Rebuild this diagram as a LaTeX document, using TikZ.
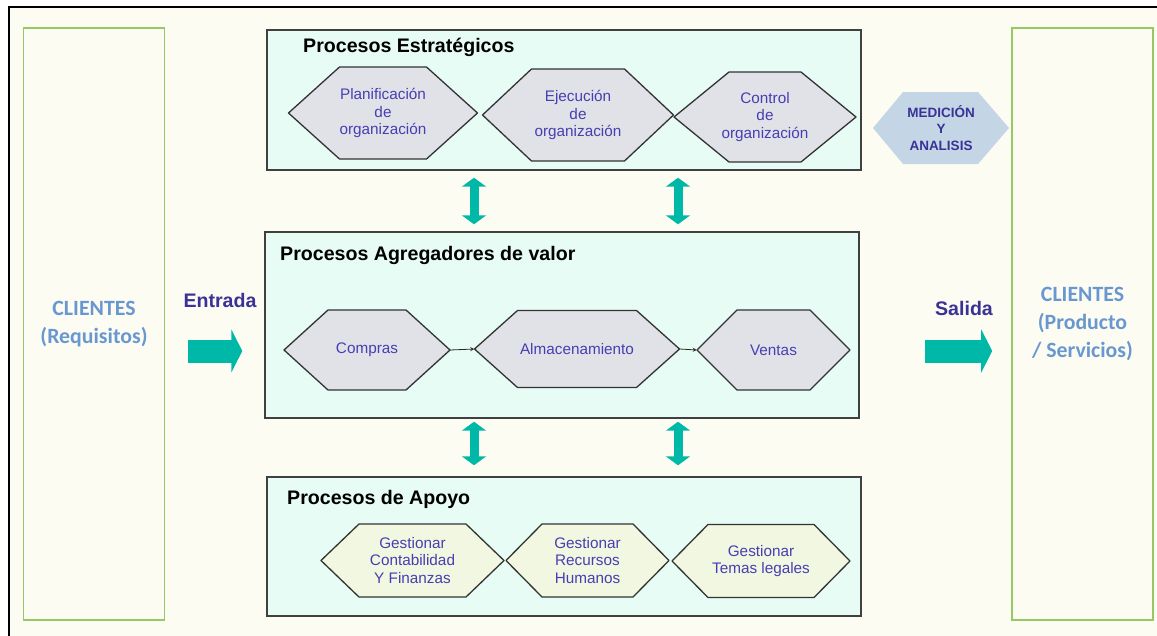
\documentclass[tikz,border=0pt]{standalone}
\usepackage{fontspec}
\setmainfont{Liberation Sans}
\newfontfamily\clifont{Carlito}
\usetikzlibrary{arrows.meta,shadows}

\definecolor{fondo}{RGB}{253,252,243}
\definecolor{menta}{RGB}{230,252,244}
\definecolor{hexgris}{RGB}{224,226,232}
\definecolor{hexcrema}{RGB}{241,247,224}
\definecolor{hextexto}{RGB}{72,62,178}
\definecolor{turquesa}{RGB}{0,184,168}
\definecolor{verde}{RGB}{150,200,100}
\definecolor{celeste}{RGB}{105,152,208}
\definecolor{medfondo}{RGB}{196,213,230}
\definecolor{azuloscuro}{RGB}{58,50,150}

\tikzset{
  procbox/.style={draw=black!75, line width=1.4pt, fill=menta, inner sep=0pt,
    drop shadow={shadow xshift=1.2pt, shadow yshift=-1.2pt, fill=black!40}},
  clibox/.style={draw=verde, line width=1.6pt, fill=fondo, inner sep=0pt,
    minimum width=141pt, minimum height=592pt, align=center, text=celeste,
    font=\clifont\fontsize{21.8}{28}\selectfont\bfseries},
  hexborde/.style={draw=black!80, line width=1.3pt, line join=round},
  hextxt/.style={inner sep=0pt, align=center, text=hextexto,
    font=\fontsize{15.3}{17.5}\selectfont},
  titulo/.style={anchor=west, inner sep=0pt, font=\fontsize{19.6}{22}\selectfont\bfseries},
  flujo/.style={text=azuloscuro, inner sep=0pt, font=\fontsize{19.6}{22}\selectfont\bfseries},
  doblefl/.style={turquesa, line width=9pt,
    arrows={Triangle[width=24pt,length=9pt]-Triangle[width=24pt,length=9pt]}},
  grandefl/.style={turquesa, line width=23pt, arrows={-Triangle[width=43pt,length=11pt]}}
}

% hexagon: [fill]{name}{centre}{width}{height}{point depth}{text}
\newcommand{\hexnodo}[7][hexgris]{%
  \path[hexborde, fill=#1] (#3) ++(-#4/2,0) -- ++(#6,-#5/2) -- ++(#4-2*#6,0)
    -- ++(#6,#5/2) -- ++(-#6,#5/2) -- ++(-#4+2*#6,0) -- cycle;
  \node[hextxt, minimum width=#4pt, minimum height=#5pt] (#2) at (#3) {#7};
}

\begin{document}
\begin{tikzpicture}[>=stealth, x=1pt, y=-1pt]
  \useasboundingbox (0,0) rectangle (1157,635);
  % Frame
  \fill[white] (0,0) rectangle (1157,635);
  \draw[line width=2pt, fill=fondo] (9,7) rectangle (1180,660);
  % Clients
  \node[clibox] (cliin) at (94,324) {CLIENTES\\(Requisitos)};
  \node[clibox] (cliout) at (1082.5,324) {CLIENTES\\(Producto\\/ Servicios)};
  % Process boxes
  \node[procbox, minimum width=594pt, minimum height=140pt] (estrat) at (564,100) {};
  \node[procbox, minimum width=594pt, minimum height=186pt] (agreg) at (562,325) {};
  \node[procbox, minimum width=594pt, minimum height=139pt] (apoyo) at (564,546.5) {};
  \node[titulo] (t-estrat) at (303,47) {Procesos Estratégicos};
  \node[titulo] (t-agreg) at (280,255) {Procesos Agregadores de valor};
  \node[titulo] (t-apoyo) at (287,499) {Procesos de Apoyo};
  % Strategic
  \hexnodo{plan}{383,113}{189}{92}{51}{Planificación\\de\\organización}
  \hexnodo{ejec}{578,115}{191}{92}{49}{Ejecución\\de\\organización}
  \hexnodo{ctrl}{765,117}{182}{90}{55}{Control\\de\\organización}
  % Value chain
  \hexnodo{compras}{367,350}{166}{80}{44}{Compras}
  \hexnodo{almac}{577,349}{205}{77}{43}{Almacenamiento}
  \hexnodo{ventas}{773.5,350}{153}{80}{40}{Ventas}
  \draw[->, line width=0.8pt, black!85] (compras.east) -- (almac.west);
  \draw[->, line width=0.8pt, black!85] (almac.east) -- (ventas.west);
  % Support
  \hexnodo[hexcrema]{conta}{412.5,560.5}{183}{73}{38}{Gestionar\\Contabilidad\\Y Finanzas}
  \hexnodo[hexcrema]{rrhh}{587.5,560.5}{163}{73}{36}{Gestionar\\Recursos\\Humanos}
  \hexnodo[hexcrema]{legal}{761,561}{178}{73}{36}{Gestionar\\Temas legales}
  % Measurement
  \path[fill=medfondo] (873,128) -- (903,92) -- (978,92) -- (1009,128) -- (978,164) -- (903,164) -- cycle;
  \node[inner sep=0pt, align=center, text=azuloscuro,
    font=\fontsize{13.5}{16.5}\selectfont\bfseries] (medic) at (941,128) {MEDICIÓN\\Y\\ANALISIS};
  % Links between levels
  \coordinate (c1) at (474,0);
  \coordinate (c2) at (678,0);
  \draw[doblefl, shorten <=7pt, shorten >=7pt] (estrat.south -| c1) -- (agreg.north -| c1);
  \draw[doblefl, shorten <=7pt, shorten >=7pt] (estrat.south -| c2) -- (agreg.north -| c2);
  \draw[doblefl, shorten <=3pt, shorten >=11pt] (agreg.south -| c1) -- (apoyo.north -| c1);
  \draw[doblefl, shorten <=3pt, shorten >=11pt] (agreg.south -| c2) -- (apoyo.north -| c2);
  % Input, output
  \coordinate (io) at (0,351);
  \draw[grandefl, shorten <=23pt, shorten >=22pt] (cliin.east |- io) -- (agreg.west |- io);
  \draw[grandefl, shorten <=65pt, shorten >=19pt] (agreg.east |- io) -- (cliout.west |- io);
  \node[flujo] (entrada) at (220,300) {Entrada};
  \node[flujo] (salida) at (964,308) {Salida};
\end{tikzpicture}
\end{document}
